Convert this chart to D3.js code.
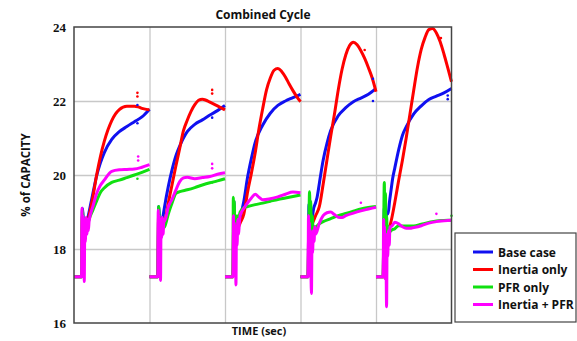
<!DOCTYPE html>
<html>
<head>
<meta charset="utf-8">
<script src="https://cdn.jsdelivr.net/npm/d3@7"></script>
<style>
  body { margin: 0; background: #fff; }
  svg { display: block; }
  .lbl { font-family: "Open Sans", sans-serif; font-weight: 700; fill: #111; }
  .tick text { font-family: "Liberation Serif", serif; font-weight: 700; font-size: 13px; fill: #111; }
</style>
</head>
<body>
<svg width="577" height="341"></svg>
<script>
// Series names / colours (legend order)
const seriesNames = ["Base case", "Inertia only", "PFR only", "Inertia + PFR"];
const seriesColors = ["#1010f0", "#ff0000", "#10e010", "#ff00ff"];
const yTicks = [16, 18, 20, 22, 24];
const segStarts = [0, 100, 200, 300, 400]; // each event window is 100 s wide

// [local time, % of capacity] per event window
const baseCase = [
  [[0,17.25],[10,17.25],[10.6,18.0],[11.2,19.1],[12,18.9],[13,18.6],[14,18.45],[15,18.7],[16,18.55],[18,18.8],[20,19.0],[25,19.5],[30,19.98],[35,20.33],[40,20.6],[50,20.96],[60,21.17],[70,21.31],[80,21.44],[90,21.57],[100,21.78]],
  [[0,17.25],[11,17.25],[11.6,18.1],[12.2,19.15],[13,18.9],[14,18.6],[15,18.5],[16,18.75],[18,18.9],[20,19.15],[25,19.7],[30,20.15],[35,20.52],[40,20.78],[50,21.17],[60,21.37],[70,21.49],[80,21.62],[90,21.74],[100,21.88]],
  [[0,17.25],[10.6,17.25],[11.2,18.3],[11.8,19.3],[12.5,18.9],[13.5,18.5],[14.5,18.7],[16,18.6],[18,18.7],[20,18.85],[25,19.3],[30,19.95],[35,20.45],[40,20.88],[50,21.35],[60,21.67],[70,21.88],[80,22.0],[90,22.09],[100,22.18]],
  [[0,17.25],[10,17.25],[10.6,18.2],[11.2,19.2],[12,18.8],[13,18.5],[14,18.7],[16,18.9],[17,19.05],[20,19.25],[22,19.4],[25,19.78],[30,20.4],[35,20.85],[40,21.2],[50,21.6],[60,21.82],[70,21.98],[80,22.08],[90,22.18],[100,22.34]],
  [[0,17.25],[9.5,17.25],[10.2,18.2],[11,19.1],[12,18.8],[13,18.6],[14,18.9],[15,19.0],[16,18.95],[18,19.3],[20,19.6],[22,19.9],[25,20.2],[30,20.68],[35,21.07],[40,21.3],[50,21.65],[60,21.87],[70,22.04],[80,22.13],[90,22.22],[100,22.34]]
];
const inertiaOnly = [
  [[0,17.25],[10,17.25],[11,18.9],[12,18.5],[14,18.4],[16,18.6],[18,18.7],[20,18.9],[25,19.4],[30,20.0],[35,20.5],[40,20.9],[45,21.22],[50,21.47],[55,21.65],[60,21.77],[70,21.86],[80,21.86],[85,21.84],[90,21.8],[100,21.76]],
  [[0,17.25],[11,17.25],[12,18.9],[13,18.5],[15,18.4],[17,18.5],[20,18.7],[25,19.25],[30,19.75],[35,20.25],[40,20.72],[45,21.2],[50,21.48],[55,21.72],[60,21.9],[65,22.02],[70,22.05],[75,22.02],[80,21.97],[90,21.87],[100,21.76]],
  [[0,17.25],[10.6,17.25],[11.5,18.8],[12.5,18.4],[14,18.3],[16,18.5],[18,18.6],[20,18.7],[25,18.95],[30,19.55],[35,20.05],[40,20.6],[45,21.25],[50,21.8],[55,22.3],[60,22.62],[65,22.83],[70,22.88],[75,22.8],[80,22.65],[85,22.46],[90,22.28],[95,22.12],[100,21.98]],
  [[0,17.25],[10,17.25],[11,18.7],[12,18.4],[14,18.5],[16,18.7],[18,18.8],[20,18.9],[25,19.15],[30,19.75],[35,20.4],[40,21.05],[45,21.65],[50,22.3],[55,22.85],[60,23.25],[65,23.5],[70,23.59],[75,23.52],[80,23.36],[85,23.15],[90,22.9],[95,22.62],[100,22.25]],
  [[0,17.25],[9.5,17.25],[10.5,18.6],[12,18.3],[14,18.4],[16,18.5],[18,18.6],[20,18.75],[25,19.27],[30,19.85],[35,20.4],[40,21.0],[45,21.65],[50,22.3],[55,22.92],[60,23.4],[65,23.72],[70,23.93],[75,23.96],[80,23.84],[85,23.6],[90,23.27],[95,22.9],[100,22.52]]
];
const pfrOnly = [
  [[0,17.25],[10,17.25],[10.6,18.0],[11.2,19.05],[12,18.8],[13,18.5],[14,18.4],[16,18.6],[18,18.65],[20,18.8],[25,19.05],[30,19.3],[35,19.53],[40,19.65],[50,19.8],[60,19.86],[70,19.93],[80,20.0],[90,20.07],[100,20.15]],
  [[0,17.25],[11,17.25],[11.6,18.4],[12.2,19.15],[13,18.8],[14,18.5],[15,18.45],[17,18.55],[20,18.6],[25,18.95],[30,19.25],[35,19.5],[40,19.55],[50,19.6],[60,19.66],[70,19.73],[80,19.79],[90,19.84],[100,19.9]],
  [[0,17.25],[10.6,17.25],[11,19.4],[11.6,18.6],[12.3,19.3],[13,18.4],[14,18.8],[15,18.5],[16,18.9],[18,18.8],[20,19.0],[25,19.12],[30,19.15],[40,19.2],[50,19.24],[60,19.29],[70,19.34],[80,19.38],[90,19.42],[100,19.46]],
  [[0,17.25],[10,17.25],[11,18.5],[12,19.55],[12.8,18.8],[13.5,19.3],[14.5,18.5],[15.5,18.9],[17,18.4],[18,18.6],[20,18.6],[25,18.68],[30,18.74],[40,18.82],[50,18.9],[60,18.96],[70,19.02],[80,19.08],[90,19.12],[100,19.15]],
  [[0,17.25],[9.5,17.25],[10.3,18.8],[11,19.8],[11.8,18.7],[12.5,19.5],[13.3,18.3],[14,18.9],[15,18.4],[16.5,18.6],[18,18.45],[20,18.5],[25,18.55],[30,18.63],[40,18.62],[50,18.62],[60,18.67],[70,18.72],[80,18.76],[90,18.77],[100,18.78]]
];
const inertiaPfr = [
  [[0,17.25],[10,17.25],[10.6,19.1],[11.2,17.6],[11.8,18.9],[12.4,17.5],[13,18.8],[13.6,17.12],[14.3,18.7],[15,18.2],[16,18.85],[17,18.4],[18,18.8],[19,18.5],[20,18.75],[25,19.15],[30,19.5],[35,19.72],[40,19.86],[50,20.1],[60,20.14],[70,20.15],[80,20.16],[90,20.21],[100,20.28]],
  [[0,17.25],[11,17.25],[11.6,19.05],[12.2,17.6],[12.8,18.9],[13.4,17.5],[14,18.8],[14.6,17.15],[15.3,18.7],[16,18.3],[17,18.85],[18,18.4],[19,18.8],[20,18.75],[25,19.15],[30,19.35],[35,19.6],[40,19.82],[45,19.92],[50,19.94],[60,19.9],[70,19.93],[80,19.96],[90,20.02],[100,20.06]],
  [[0,17.25],[10.6,17.25],[11.2,18.9],[11.8,17.6],[12.4,18.7],[13,17.5],[13.7,18.6],[14.5,17.03],[15.2,18.5],[16,18.1],[17,18.8],[18,18.4],[19,18.7],[20,18.9],[25,19.1],[30,19.25],[35,19.38],[40,19.48],[45,19.4],[50,19.33],[60,19.36],[70,19.41],[80,19.48],[90,19.54],[100,19.52]],
  [[0,17.25],[10,17.25],[10.6,18.9],[11.2,17.5],[11.8,18.7],[12.4,17.3],[13,18.5],[13.7,17.6],[14.5,16.8],[15.3,18.4],[16,17.9],[17,18.5],[18,18.2],[19,18.6],[20,18.4],[25,18.7],[30,18.9],[35,18.98],[40,19.0],[45,18.93],[50,18.86],[55,18.85],[60,18.9],[70,18.97],[80,19.03],[90,19.08],[100,19.13]],
  [[0,17.25],[9.5,17.25],[10.1,18.8],[10.7,17.4],[11.3,18.6],[12,17.2],[12.7,18.4],[13.4,17.5],[14,16.44],[14.8,18.3],[15.5,17.8],[16.5,18.5],[17.5,18.1],[18.5,18.6],[20,18.6],[25,18.72],[30,18.68],[35,18.6],[40,18.56],[45,18.56],[50,18.58],[60,18.63],[70,18.7],[80,18.74],[90,18.76],[100,18.78]]
];

// stray samples sitting off the traces: [series index, window, local time, value]
const strays = [
  [1,0,84,22.22],[1,0,84,22.12],[0,0,84,21.89],[0,0,84,21.4],[3,0,85,20.5],[3,0,85,20.39],[2,0,84,19.9],
  [1,1,83,22.3],[1,1,83,22.2],[0,1,83,21.55],[3,1,83,20.3],[3,1,83,20.18],[2,1,83,19.8],
  [1,3,85,23.38],[0,3,96,22.6],[0,3,96,22.0],[3,3,80,19.25],
  [1,4,86,23.7],[0,4,95,22.15],[0,4,95,22.05],[3,4,80,18.95],[2,4,100,18.9]
];

const allSeries = [baseCase, inertiaOnly, pfrOnly, inertiaPfr];

const svg = d3.select("svg");
const plotL = 74, plotR = 451.5, plotT = 27, plotB = 323;

const x = d3.scaleLinear().domain([0, 500]).range([plotL, plotR]);
const y = d3.scaleLinear().domain([16, 24]).range([plotB, plotT]);

// grid
svg.append("g")
  .attr("transform", `translate(${plotL},0)`)
  .call(d3.axisLeft(y).tickValues([18, 20, 22]).tickSize(-(plotR - plotL)).tickFormat(""))
  .call(g => g.select(".domain").remove())
  .selectAll("line").attr("stroke", "#c8c8c8").attr("stroke-width", 1.3);

svg.append("g")
  .attr("transform", `translate(0,${plotB})`)
  .call(d3.axisBottom(x).tickValues([100, 200, 300, 400]).tickSize(-(plotB - plotT)).tickFormat(""))
  .call(g => g.select(".domain").remove())
  .selectAll("line").attr("stroke", "#c8c8c8").attr("stroke-width", 1.3);

// y tick labels
svg.append("g")
  .attr("transform", `translate(${plotL},0)`)
  .call(d3.axisLeft(y).tickValues(yTicks).tickSize(0).tickPadding(8))
  .call(g => g.select(".domain").remove());

// traces
const line = d3.line()
  .x(d => d[0])
  .y(d => y(d[1]))
  .curve(d3.curveMonotoneX);

allSeries.forEach((series, i) => {
  series.forEach((seg, k) => {
    svg.append("path")
      .datum(seg.map(p => [x(segStarts[k] + p[0]), p[1]]))
      .attr("fill", "none")
      .attr("stroke", seriesColors[i])
      .attr("stroke-width", 3)
      .attr("stroke-linejoin", "round")
      .attr("d", line);
  });
});

svg.append("g").selectAll("circle")
  .data(strays)
  .join("circle")
  .attr("cx", d => x(segStarts[d[1]] + d[2]))
  .attr("cy", d => y(d[3]))
  .attr("r", 1.3)
  .attr("fill", d => seriesColors[d[0]]);

// plot frame
svg.append("rect")
  .attr("x", plotL).attr("y", plotT)
  .attr("width", plotR - plotL).attr("height", plotB - plotT)
  .attr("fill", "none").attr("stroke", "#444").attr("stroke-width", 1.5);

// titles
svg.append("text").attr("class", "lbl")
  .attr("x", 263).attr("y", 19).attr("text-anchor", "middle")
  .attr("font-size", 12).text("Combined Cycle");

svg.append("text").attr("class", "lbl")
  .attr("x", 259).attr("y", 335).attr("text-anchor", "middle")
  .attr("font-size", 11).text("TIME (sec)");

svg.append("text").attr("class", "lbl")
  .attr("transform", "translate(30,175) rotate(-90)")
  .attr("text-anchor", "middle")
  .attr("font-size", 11.5).text("% of CAPACITY");

// legend
const legend = svg.append("g");
legend.append("rect")
  .attr("x", 455).attr("y", 233).attr("width", 121).attr("height", 89)
  .attr("fill", "#fff").attr("stroke", "#444").attr("stroke-width", 1.2);

const rows = legend.selectAll("g.row")
  .data(seriesNames)
  .join("g")
  .attr("class", "row")
  .attr("transform", (d, i) => `translate(0,${252 + i * 17.5})`);

rows.append("line")
  .attr("x1", 473).attr("x2", 493)
  .attr("stroke", (d, i) => seriesColors[i]).attr("stroke-width", 3);

rows.append("text").attr("class", "lbl")
  .attr("x", 498).attr("y", 4.5)
  .attr("font-size", 12)
  .text(d => d);
</script>
</body>
</html>
